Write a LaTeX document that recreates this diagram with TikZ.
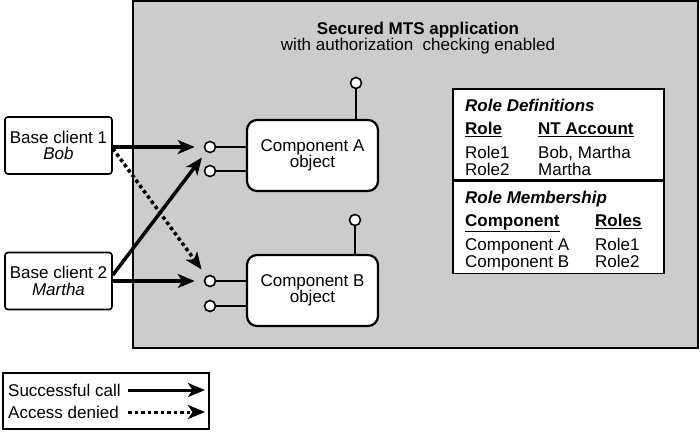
\documentclass[tikz,border=0pt]{standalone}
\usepackage{fontspec}
\setmainfont{Liberation Sans}
\usetikzlibrary{arrows.meta}
\begin{document}
\begin{tikzpicture}[
    x=1pt, y=-1pt,
    every node/.style={font=\fontsize{17}{16.5}\selectfont},
    app/.style={draw, line width=1.6pt, fill=black!20, inner sep=0pt},
    comp/.style={draw, fill=white, line width=2.2pt, rounded corners=10pt, minimum width=131pt, minimum height=71pt, align=center},
    client/.style={draw, fill=white, line width=1.6pt, rounded corners=3pt, minimum width=107pt, minimum height=57pt, align=center, inner sep=0pt},
    port/.style={draw, fill=white, circle, line width=1.6pt, minimum size=11pt, inner sep=0pt},
    wire/.style={line width=1.5pt},
    call/.style={-{Stealth[length=17pt, width=14pt, inset=4.5pt]}, line width=3.5pt},
    denied/.style={call, dash pattern=on 3.5pt off 3pt},
    panel/.style={draw, fill=white, line width=1.6pt, anchor=north west, minimum width=211pt, inner sep=0pt},
    paneltext/.style={anchor=north west, inner sep=0pt, align=left}
]
\useasboundingbox (0,0) rectangle (700,440);

\node[app, minimum width=565pt, minimum height=347pt] (app) at (415.5,174.5) {};
\node[align=center] (title) at (418,38) {\textbf{Secured MTS application}\\with authorization\ \ checking enabled};

\node[comp] (compA) at (312.5,155.5) {Component A\\object};
\node[comp] (compB) at (312.5,290.5) {Component B\\object};

\node[port] (a1) at (210,147) {};
\node[port] (a2) at (210,171) {};
\node[port] (a3) at (356,83) {};
\node[port] (b1) at (210,281) {};
\node[port] (b2) at (210,306) {};
\node[port] (b3) at (355,220) {};
\draw[wire] (a1) -- (a1 -| compA.west);
\draw[wire] (a2) -- (a2 -| compA.west);
\draw[wire] (a3) -- (a3 |- compA.north);
\draw[wire] (b1) -- (b1 -| compB.west);
\draw[wire] (b2) -- (b2 -| compB.west);
\draw[wire] (b3) -- (b3 |- compB.north);

\node[client] (c1) at (58.5,145.5) {Base client 1\\\textit{Bob}};
\node[client] (c2) at (58.5,281) {Base client 2\\\textit{Martha}};

\draw[call, shorten >=9pt] (c1.east |- a1) -- (a1);
\draw[call, shorten >=7pt] ([yshift=6pt]c2.east) -- (a1);
\draw[call, shorten >=9pt] (c2.east |- b1) -- (b1);
\draw[denied, shorten >=8pt] ([yshift=-3pt]c1.east) -- (b1);

\node[panel, minimum height=91pt] (defs) at (452,88) {};
\node[panel, minimum height=92pt] (memb) at (defs.south west) {};
\node[paneltext] (defstext) at (465,99) {\textbf{\textit{Role Definitions}}\\[6.5pt]
  \begin{tabular}[t]{@{}p{73pt}@{}l@{}}
    \textbf{\underline{Role}} & \textbf{\underline{NT Account}}\\[6.5pt]
    Role1 & Bob, Martha\\
    Role2 & Martha
  \end{tabular}};
\node[paneltext] (membtext) at (465,191) {\textbf{\textit{Role Membership}}\\[6.5pt]
  \begin{tabular}[t]{@{}p{130pt}@{}l@{}}
    \textbf{\underline{Component}} & \textbf{\underline{Roles}}\\[6.5pt]
    Component A & Role1\\
    Component B & Role2
  \end{tabular}};

\node[draw, line width=1.6pt, minimum width=206pt, minimum height=56pt] (key) at (106,401) {};
\node[anchor=west, inner sep=0pt] (succ) at (8,390) {Successful call};
\node[anchor=west, inner sep=0pt] (deny) at (8,412) {Access denied};
\coordinate (succa) at (128,390);
\coordinate (succb) at (205,390);
\coordinate (denya) at (128,412);
\coordinate (denyb) at (205,412);
\draw[call, line width=3pt] (succa) -- (succb);
\draw[denied, line width=3pt] (denya) -- (denyb);
\end{tikzpicture}
\end{document}
